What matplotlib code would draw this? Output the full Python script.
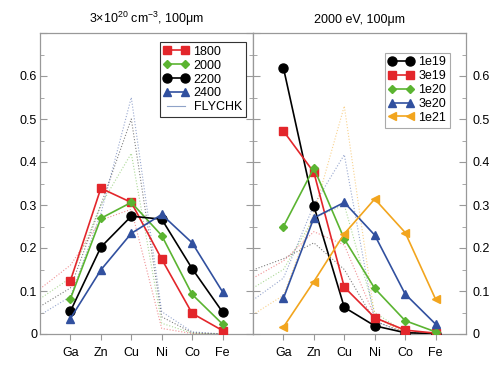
import matplotlib
matplotlib.use("Agg")
import matplotlib.pyplot as plt
from matplotlib.ticker import MultipleLocator, FuncFormatter

plt.rcParams['font.family'] = ['Liberation Sans', 'DejaVu Sans']
plt.rcParams['mathtext.fontset'] = 'custom'
plt.rcParams['mathtext.rm'] = 'Liberation Sans'
plt.rcParams['mathtext.it'] = 'Liberation Sans:italic'

elements = ["Ga", "Zn", "Cu", "Ni", "Co", "Fe"]
x_el = [1, 2, 3, 4, 5, 6]
x_fly = [0, 1, 2, 3, 4, 5, 6]

# Left panel: temperatures (eV) at 3e20 cm^-3
left_labels = ["1800", "2000", "2200", "2400"]
left_1800 = [0.124, 0.339, 0.306, 0.174, 0.048, 0.008]
left_2000 = [0.082, 0.269, 0.306, 0.229, 0.092, 0.023]
left_2200 = [0.053, 0.202, 0.274, 0.267, 0.152, 0.051]
left_2400 = [0.036, 0.149, 0.234, 0.278, 0.212, 0.098]
left_fly_1800 = [0.105, 0.160, 0.265, 0.290, 0.013, 0.001, 0.0]
left_fly_2000 = [0.082, 0.130, 0.300, 0.420, 0.025, 0.002, 0.0]
left_fly_2200 = [0.064, 0.107, 0.300, 0.500, 0.040, 0.003, 0.0]
left_fly_2400 = [0.044, 0.087, 0.280, 0.550, 0.052, 0.005, 0.0]

# Right panel: densities at 2000 eV
right_labels = ["1e19", "3e19", "1e20", "3e20", "1e21"]
right_1e19 = [0.619, 0.298, 0.062, 0.019, 0.003, 0.001]
right_3e19 = [0.472, 0.376, 0.109, 0.038, 0.009, 0.002]
right_1e20 = [0.250, 0.386, 0.221, 0.106, 0.031, 0.005]
right_3e20 = [0.083, 0.270, 0.306, 0.230, 0.093, 0.023]
right_1e21 = [0.016, 0.122, 0.233, 0.314, 0.236, 0.081]
right_fly_1e19 = [0.149, 0.175, 0.212, 0.150, 0.030, 0.003, 0.0]
right_fly_3e19 = [0.130, 0.170, 0.238, 0.207, 0.040, 0.004, 0.0]
right_fly_1e20 = [0.107, 0.150, 0.270, 0.300, 0.050, 0.004, 0.0]
right_fly_3e20 = [0.079, 0.130, 0.300, 0.417, 0.030, 0.002, 0.0]
right_fly_1e21 = [0.045, 0.090, 0.280, 0.530, 0.040, 0.002, 0.0]

RED = '#e3262b'
GREEN = '#5bb431'
BLACK = '#000000'
BLUE = '#31509f'
ORANGE = '#f2a51e'
GRAY = '#999999'

fig = plt.figure(figsize=(4.96, 3.76), dpi=100)
axL = fig.add_axes([40/496, 1-334/376, 213/496, 301/376])
axR = fig.add_axes([253/496, 1-334/376, 213/496, 301/376])

def style(ax, side):
    ax.set_xlim(0, 7)
    ax.set_ylim(0, 0.7)
    ax.set_xticks(x_el)
    ax.set_xticklabels(elements, fontsize=9)
    ax.yaxis.set_major_locator(MultipleLocator(0.1))
    ax.yaxis.set_minor_locator(MultipleLocator(0.05))
    ax.yaxis.set_major_formatter(FuncFormatter(lambda v, p: "0" if abs(v) < 1e-9 else ("%.1f" % v if v < 0.65 else "")))
    for s in ax.spines.values():
        s.set_color(GRAY)
        s.set_linewidth(0.9)
    ax.tick_params(axis='x', direction='out', length=4, color=GRAY, top=False, labelsize=9, pad=5)
    ax.tick_params(axis='y', which='both', direction='in', left=True, right=True, color=GRAY, labelsize=9)
    ax.tick_params(axis='y', which='major', length=5)
    ax.tick_params(axis='y', which='minor', length=3)
    if side == 'left':
        ax.tick_params(axis='y', labelleft=True, labelright=False, pad=2)
    else:
        ax.tick_params(axis='y', labelleft=False, labelright=True, pad=5)

style(axL, 'left')
style(axR, 'right')

# FLYCHK thin lines
fly_kw = dict(lw=0.8, ls=':', alpha=0.5, zorder=1)
axL.plot(x_fly, left_fly_1800, color=RED, **fly_kw)
axL.plot(x_fly, left_fly_2000, color=GREEN, **fly_kw)
axL.plot(x_fly, left_fly_2200, color=BLACK, **fly_kw)
axL.plot(x_fly, left_fly_2400, color=BLUE, **fly_kw)

axR.plot(x_fly, right_fly_1e19, color=BLACK, **fly_kw)
axR.plot(x_fly, right_fly_3e19, color=RED, **fly_kw)
axR.plot(x_fly, right_fly_1e20, color=GREEN, **fly_kw)
axR.plot(x_fly, right_fly_3e20, color=BLUE, **fly_kw)
axR.plot(x_fly, right_fly_1e21, color=ORANGE, **fly_kw)

lkw = dict(lw=1.2, zorder=3)
axL.plot(x_el, left_1800, color=RED, marker='s', ms=5.5, label=left_labels[0], **lkw)
axL.plot(x_el, left_2000, color=GREEN, marker='D', ms=4.5, label=left_labels[1], **lkw)
axL.plot(x_el, left_2200, color=BLACK, marker='o', ms=6.5, label=left_labels[2], **lkw)
axL.plot(x_el, left_2400, color=BLUE, marker='^', ms=6, label=left_labels[3], **lkw)
axL.plot([], [], color='#8fa3c8', lw=0.8, label='FLYCHK')

axR.plot(x_el, right_1e19, color=BLACK, marker='o', ms=6.5, label=right_labels[0], **lkw)
axR.plot(x_el, right_3e19, color=RED, marker='s', ms=5.5, label=right_labels[1], **lkw)
axR.plot(x_el, right_1e20, color=GREEN, marker='D', ms=4.5, label=right_labels[2], **lkw)
axR.plot(x_el, right_3e20, color=BLUE, marker='^', ms=6, label=right_labels[3], **lkw)
axR.plot(x_el, right_1e21, color=ORANGE, marker='<', ms=6, label=right_labels[4], **lkw)

legL = axL.legend(loc='upper right', bbox_to_anchor=(0.965, 0.97), numpoints=2, fontsize=9,
                  fancybox=False, framealpha=1, handlelength=2.0, handletextpad=0.4,
                  borderpad=0.3, labelspacing=0.15, borderaxespad=0)
legL.get_frame().set_edgecolor('#333333')
legL.get_frame().set_linewidth(0.8)

legR = axR.legend(loc='upper right', bbox_to_anchor=(0.925, 0.935), numpoints=2, fontsize=9,
                  fancybox=False, framealpha=1, handlelength=2.0, handletextpad=0.4,
                  borderpad=0.3, labelspacing=0.15, borderaxespad=0)
legR.get_frame().set_edgecolor('#aaaaaa')
legR.get_frame().set_linewidth(0.8)

axL.set_title("3×10$^{20}$ cm$^{-3}$, 100μm", fontsize=9, pad=7)
axR.set_title("2000 eV, 100μm", fontsize=9, pad=7)

fig.savefig("out.png", dpi=100)
